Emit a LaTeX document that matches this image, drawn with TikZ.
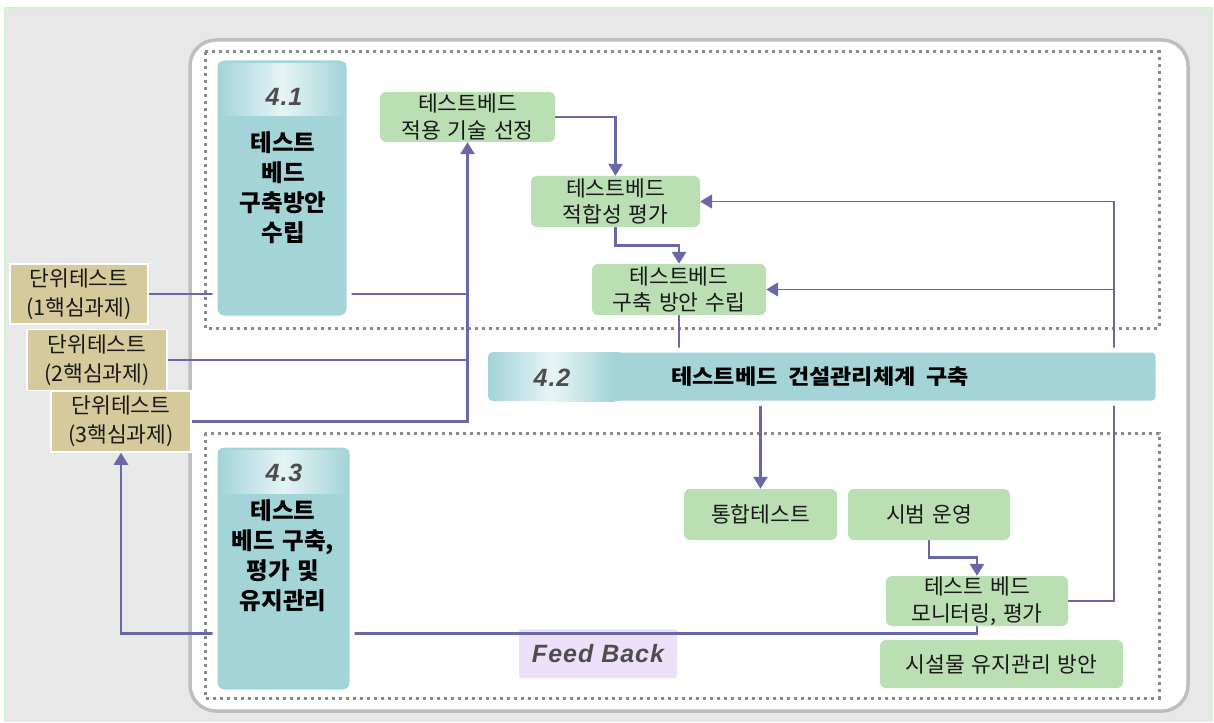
\documentclass[tikz,border=0pt]{standalone}
\usepackage{fontspec}
\setmainfont{Noto Sans CJK KR}[WordSpace=1.4]
\newfontfamily\titlefont{Noto Sans CJK KR}[FakeStretch=1.1, WordSpace=2]
\newfontfamily\numfont{Liberation Sans}[LetterSpace=4]
\usetikzlibrary{arrows.meta,calc}
\definecolor{bggray}{HTML}{E8E8E8}
\definecolor{edgegreen}{HTML}{CCF7CC}
\definecolor{framec}{HTML}{BEBEBE}
\definecolor{dotc}{HTML}{8A8A8A}
\definecolor{gfill}{HTML}{BADFB3}
\definecolor{tealc}{HTML}{A3D4D8}
\definecolor{teallt}{HTML}{E6F4F5}
\definecolor{tanc}{HTML}{D5CA9B}
\definecolor{linec}{HTML}{6868A8}
\definecolor{fbfill}{HTML}{EEDFFA}
\definecolor{numc}{HTML}{4D4D4D}
\pgfdeclarelayer{bg}
\pgfdeclarelayer{conn}
\pgfsetlayers{bg,conn,main}
\tikzset{
  gbox/.style={fill=gfill, rounded corners=6pt, align=center, inner sep=0pt,
    font=\fontsize{21.5}{26.5}\selectfont, text=black!90},
  ubox/.style={fill=tanc, draw=white, line width=1.5pt, align=center, inner sep=0pt,
    font=\fontsize{21.5}{29}\selectfont, text=black!90},
  phase/.style={fill=tealc, draw=white, line width=5pt, rounded corners=9pt, inner sep=0pt},
  phasetext/.style={align=center, inner sep=0pt, font=\fontsize{23.5}{30}\selectfont\bfseries, text=black},
  numtext/.style={inner sep=0pt, font=\numfont\fontsize{25}{25}\selectfont\bfseries\itshape, text=numc},
  dots/.style={dotc, line width=3pt, dash pattern=on 3pt off 4pt},
  conn/.style={linec, line width=2.6pt},
  thinconn/.style={linec, line width=1.8pt},
  tip/.style={-{Triangle[length=12pt,width=14pt]}}
}
\begin{document}
\begin{tikzpicture}[x=1pt,y=-1pt]
\useasboundingbox (0,0) rectangle (1214,722);
% ---------- nodes ----------
\node[gbox, minimum width=175pt, minimum height=50pt] (A) at (467.5,117) {테스트베드\\적용 기술 선정};
\node[gbox, minimum width=169pt, minimum height=51pt] (B) at (615.5,201.5) {테스트베드\\적합성 평가};
\node[gbox, minimum width=174pt, minimum height=51pt] (C) at (679,289.5) {테스트베드\\구축 방안 수립};
\node[gbox, minimum width=153pt, minimum height=51pt] (T) at (760.5,514.5) {통합테스트};
\node[gbox, minimum width=162pt, minimum height=51pt] (S) at (929,514.5) {시범 운영};
\node[gbox, minimum width=182pt, minimum height=50pt] (M) at (977,601) {테스트 베드\\모니터링, 평가};
\node[gbox, minimum width=243pt, minimum height=48pt] (F) at (1001.5,664) {시설물 유지관리 방안};

\node[ubox, minimum width=138pt, minimum height=60pt] (U1) at (79,294) {단위테스트\\(1핵심과제)};
\node[ubox, minimum width=140pt, minimum height=61pt] (U2) at (97,360) {단위테스트\\(2핵심과제)};
\node[ubox, minimum width=140pt, minimum height=61pt] (U3) at (121,421.5) {단위테스트\\(3핵심과제)};

% phase 4.1
\node[phase, minimum width=134pt, minimum height=260pt] (P41) at (282,188) {};
\shade[left color=tealc, right color=tealc, middle color=teallt] (218,64) rectangle (346,116);
\node[numtext] (N41) at (284,97) {4.1};
\node[phasetext] (T41) at (283,188) {테스트\\베드\\구축방안\\수립};

% phase 4.2
\node[phase, minimum width=672pt, minimum height=53pt, rounded corners=6pt] (P42) at (822,376.5) {};
\shade[left color=tealc, right color=tealc, middle color=teallt, rounded corners=5pt] (488,352) rectangle (615,401);
\fill[tealc] (560,352) rectangle (620,401);
\shade[left color=teallt, right color=tealc] (553,352) rectangle (615,401);
\node[numtext] (N42) at (552,378) {4.2};
\node[phasetext, font=\titlefont\fontsize{21}{26}\selectfont\bfseries] (T42) at (820,377) {테스트베드 건설관리체계 구축};

% phase 4.3
\node[phase, minimum width=137pt, minimum height=247pt] (P43) at (283.5,568.5) {};
\shade[left color=tealc, right color=tealc, middle color=teallt] (218,450) rectangle (349,493);
\node[numtext] (N43) at (284,473) {4.3};
\node[phasetext] (T43) at (283,556) {테스트\\베드 구축,\\평가 및\\유지관리};

% ---------- background ----------
\begin{pgfonlayer}{bg}
\fill[white] (0,0) rectangle (1214,722);
\fill[bggray] (5,8) rectangle (1212,722);
\draw[edgegreen, line width=1.5pt] (5,722) -- (5,8) -- (1212,8) -- (1212,722);
\draw[framec, line width=3.5pt, fill=white, rounded corners=26pt] (190,40) rectangle (1188,711);
\draw[dots] (205,52) rectangle (1159,328);
\draw[dots] (205,433) rectangle (1159,698);
\node[fill=fbfill, rounded corners=2pt, minimum width=158pt, minimum height=49pt, inner sep=0pt,
  font=\numfont\fontsize{25}{25}\selectfont\bfseries\itshape, text=numc] (FB) at (598,653.5) {Feed Back};
\end{pgfonlayer}

% ---------- connectors ----------
\begin{pgfonlayer}{conn}
\coordinate (J) at (467,294);
\coordinate (R) at (1114,400);
\draw[conn] (U1.east) -- (U1.east -| J);
\draw[conn] (U2.east) -- (U2.east -| J);
\draw[conn, tip] (U3.east) -| (A.south);
\draw[conn, tip] (A.east) -| (B.north);
\draw[conn, tip] (B.south) -- ++(0,18) -| (C.north);
\draw[conn] (C.south) -- (C.south |- P42.north);
\draw[conn, tip] (P42.south -| T.north) -- (T.north);
\draw[conn, tip] (S.south) -- ++(0,17) -| (M.north);
\draw[thinconn, tip] (M.east) -| (R |- B.east) -- (B.east);
\draw[thinconn, tip] (R |- C.east) -- (C.east);
\draw[conn, tip] (M.south) -- ++(0,7) -| (U3.south);
\end{pgfonlayer}
\end{tikzpicture}
\end{document}
